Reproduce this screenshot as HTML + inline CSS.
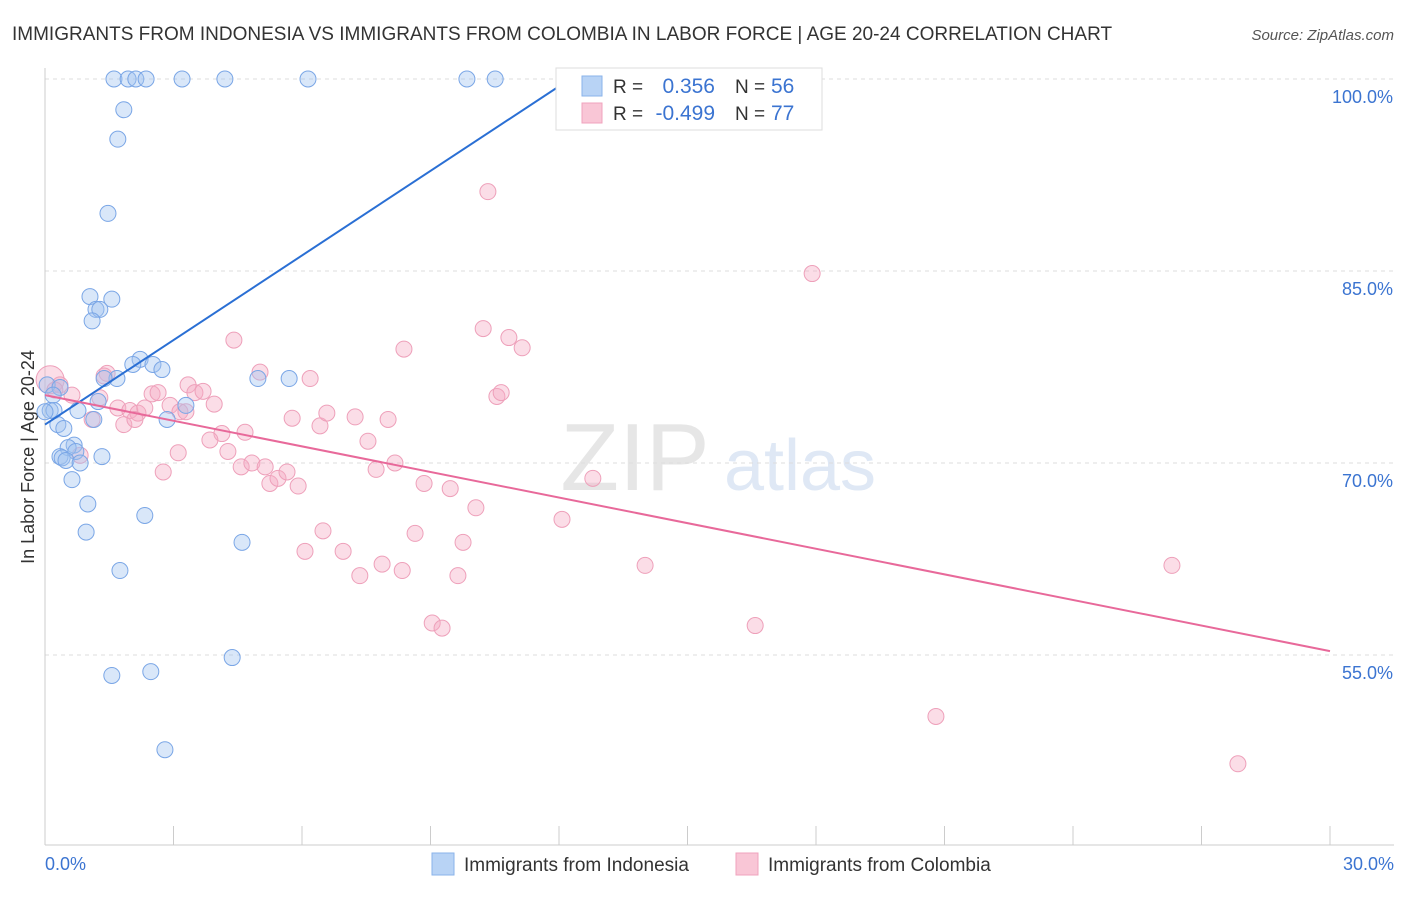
<!DOCTYPE html>
<html><head><meta charset="utf-8"><style>
body{margin:0;background:#fff;font-family:"Liberation Sans",sans-serif;}
svg text{font-family:"Liberation Sans",sans-serif;}
</style></head><body>
<svg id="chart" width="1406" height="892">
<text x="12" y="40" font-size="19" fill="#333">IMMIGRANTS FROM INDONESIA VS IMMIGRANTS FROM COLOMBIA IN LABOR FORCE | AGE 20-24 CORRELATION CHART</text>
<text x="1394" y="40" font-size="15" fill="#555" font-style="italic" text-anchor="end">Source: ZipAtlas.com</text>
<text x="635" y="490" font-size="96" fill="#e6e6e6" font-family="Liberation Serif" text-anchor="middle">ZIP</text>
<text x="800" y="490" font-size="72" fill="#dfe8f5" text-anchor="middle">atlas</text>
<text transform="translate(34,457) rotate(-90)" font-size="18" fill="#333" text-anchor="middle">In Labor Force | Age 20-24</text>
<g id="grid"></g><g id="pts"></g><g id="trend"></g>
<g>
<rect x="556" y="68" width="266" height="62" fill="#fff" stroke="#ddd"/>
<rect x="582" y="76" width="20" height="20" fill="#b8d3f5" stroke="#8ab3ea"/>
<rect x="582" y="103" width="20" height="20" fill="#f9c6d6" stroke="#f0a3bd"/>
<text x="613" y="93" font-size="19" fill="#333">R =</text><text x="715" y="93" font-size="21" fill="#3b74d1" text-anchor="end">0.356</text>
<text x="735" y="93" font-size="19" fill="#333">N =</text><text x="771" y="93" font-size="21" fill="#3b74d1">56</text>
<text x="613" y="120" font-size="19" fill="#333">R =</text><text x="715" y="120" font-size="21" fill="#3b74d1" text-anchor="end">-0.499</text>
<text x="735" y="120" font-size="19" fill="#333">N =</text><text x="771" y="120" font-size="21" fill="#3b74d1">77</text>
</g>
<g>
<rect x="432" y="853" width="22" height="22" fill="#b8d3f5" stroke="#8ab3ea"/>
<text x="464" y="871" font-size="19" fill="#333">Immigrants from Indonesia</text>
<rect x="736" y="853" width="22" height="22" fill="#f9c6d6" stroke="#f0a3bd"/>
<text x="768" y="871" font-size="19" fill="#333">Immigrants from Colombia</text>
</g>
</svg>
<script>
const yTicks=[100,85,70,55];
const xTickLabels=["0.0%","30.0%"];
const blueX=[1.61,1.94,2.12,2.36,3.20,4.20,6.14,9.85,10.51,1.84,1.70,1.47,1.05,1.56,1.19,1.28,1.10,2.22,2.05,2.52,2.73,1.68,1.38,4.97,5.70,0.05,0.35,0.19,1.24,3.29,0.12,0.21,0.77,0.0,1.14,2.85,0.30,0.44,0.68,0.54,0.72,0.35,0.40,0.49,1.33,0.82,0.63,1.00,2.33,0.96,4.60,1.75,4.37,1.56,2.47,2.80];
const blueY=[100,100,100,100,100,100,100,100,100,97.6,95.3,89.5,83.0,82.8,82.0,82.0,81.1,78.1,77.7,77.7,77.3,76.6,76.6,76.6,76.6,76.1,75.9,75.3,74.8,74.5,74.1,74.1,74.1,74.0,73.4,73.4,73.0,72.7,71.4,71.2,70.9,70.5,70.4,70.2,70.5,70.0,68.7,66.8,65.9,64.6,63.8,61.6,54.8,53.4,53.7,47.6];
const pinkX=[0.12,0.35,0.23,0.63,1.28,1.45,1.38,1.70,1.98,2.17,2.33,2.50,2.64,2.92,3.15,3.34,3.50,3.69,3.95,4.41,4.13,4.27,3.85,4.67,4.58,4.83,5.14,5.25,5.44,5.65,5.91,5.02,5.77,6.19,6.42,6.58,6.07,6.49,6.96,7.24,7.35,7.54,7.73,7.87,8.01,8.17,8.34,8.38,8.64,8.85,9.04,9.27,9.46,9.64,9.76,10.06,10.23,10.34,10.55,10.65,10.83,11.14,12.07,12.79,14.01,16.58,17.91,20.80,26.31,27.85,2.76,3.11,0.82,1.10,1.84,2.10,3.29];
const pinkY=[76.5,76.1,75.7,75.3,75.1,77.0,76.8,74.3,74.1,73.9,74.3,75.4,75.5,74.5,74.0,76.1,75.5,75.6,74.6,79.6,72.3,70.9,71.8,72.4,69.7,70.0,69.7,68.4,68.8,69.3,68.2,77.1,73.5,76.6,72.9,73.9,63.1,64.7,63.1,73.6,61.2,71.7,69.5,62.1,73.4,70.0,61.6,78.9,64.5,68.4,57.5,57.1,68.0,61.2,63.8,66.5,80.5,91.2,75.2,75.5,79.8,79.0,65.6,68.8,62.0,57.3,84.8,50.2,62.0,46.5,69.3,70.8,70.6,73.4,73.0,73.4,74.0];
const blueTrendX=[0,12.26],blueTrendY=[73.0,100];
const pinkTrendX=[0,30],pinkTrendY=[75.3,55.3];
const NS="http://www.w3.org/2000/svg";
const sx=v=>45+v*(1285/30), sy=v=>79+(100-v)*12.8;
function mk(t,a,p){const e=document.createElementNS(NS,t);for(const k in a)e.setAttribute(k,a[k]);p.appendChild(e);return e;}
const grid=document.getElementById('grid');
yTicks.forEach(v=>{
 const l=mk('line',{x1:45,x2:1394,y1:sy(v),y2:sy(v),stroke:'#ddd','stroke-dasharray':'4,4'},grid);
 
 
 const t=mk('text',{x:1393,y:sy(v)+24,'font-size':18,fill:'#3b74d1','text-anchor':'end'},grid);t.textContent=v.toFixed(1)+'%';
 
 
});
mk('line',{x1:45,x2:45,y1:68,y2:845,stroke:'#ccc'},grid);
mk('line',{x1:45,x2:1394,y1:845,y2:845,stroke:'#ccc'},grid);
for(let i=0;i<=10;i++){const l=mk('line',{x1:sx(i*3),x2:sx(i*3),y1:826,y2:845,stroke:'#ccc'},grid);
 
 }
[[0,'start',45],[30,'end',1394]].forEach((d,i)=>{const t=mk('text',{x:d[2],y:870,'font-size':18,fill:'#3b74d1','text-anchor':d[1]},grid);t.textContent=xTickLabels[i];
 
 });
const pts=document.getElementById('pts');
pinkX.forEach((x,i)=>{const c=mk('circle',{cx:sx(x),cy:sy(pinkY[i]),r:i==0?14:8,fill:'rgba(246,170,195,0.4)',stroke:'#eea0ba','stroke-width':1},pts);
 
 });
blueX.forEach((x,i)=>{const c=mk('circle',{cx:sx(x),cy:sy(blueY[i]),r:8,fill:'rgba(160,195,240,0.4)',stroke:'#7aa6e6','stroke-width':1},pts);
 
 });
const tr=document.getElementById('trend');
const b=mk('line',{x1:sx(blueTrendX[0]),y1:sy(blueTrendY[0]),x2:sx(blueTrendX[1]),y2:sy(blueTrendY[1]),stroke:'#2a6fd4','stroke-width':2},tr);


const p=mk('line',{x1:sx(pinkTrendX[0]),y1:sy(pinkTrendY[0]),x2:sx(pinkTrendX[1]),y2:sy(pinkTrendY[1]),stroke:'#e8699a','stroke-width':2},tr);


</script>
</body></html>
